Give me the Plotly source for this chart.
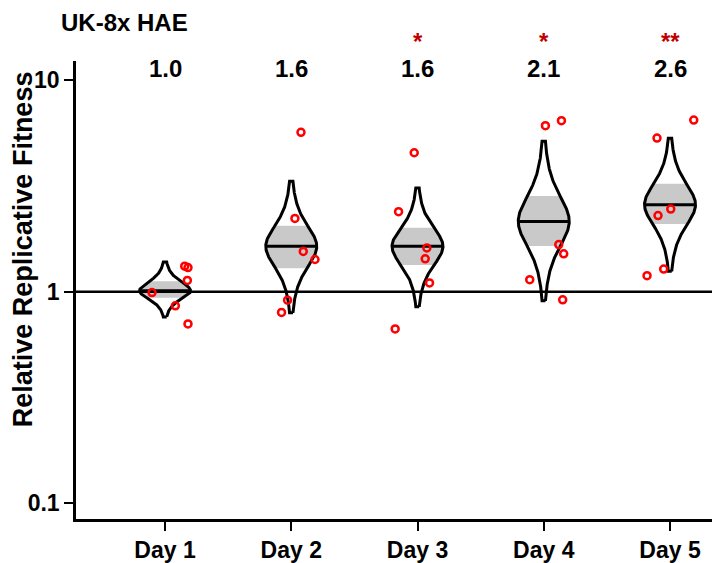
"""Violin-style chart of relative replicative fitness by day (UK-8x HAE)."""

import numpy as np
import plotly.graph_objects as go

# Categories and summary values
DAYS = ["Day 1", "Day 2", "Day 3", "Day 4", "Day 5"]
FOLD_LABELS = ["1.0", "1.6", "1.6", "2.1", "2.6"]
STARS = ["", "", "*", "*", "**"]

MEDIAN = [1.01, 1.64, 1.64, 2.15, 2.58]
BAND_LOW = [0.935, 1.29, 1.335, 1.64, 2.08]
BAND_HIGH = [1.12, 2.06, 2.01, 2.84, 3.24]
TAIL_LOW = [0.76, 0.795, 0.848, 0.905, 1.25]
TAIL_HIGH = [1.38, 3.33, 3.09, 5.15, 5.32]

# Replicate points (fitness) and their horizontal jitter (category units)
POINTS = [
    [1.32, 1.30, 1.13, 0.99, 0.857, 0.704],
    [5.67, 2.22, 1.55, 1.42, 0.912, 0.798],
    [4.54, 2.39, 1.61, 1.43, 1.10, 0.667],
    [6.10, 6.44, 1.67, 1.51, 1.14, 0.915],
    [5.33, 6.48, 2.46, 2.29, 1.28, 1.19],
]
JITTER = [
    [0.156, 0.182, 0.177, -0.103, 0.082, 0.182],
    [0.077, 0.029, 0.095, 0.188, -0.029, -0.077],
    [-0.026, -0.150, 0.074, 0.061, 0.095, -0.177],
    [0.013, 0.140, 0.119, 0.158, -0.111, 0.150],
    [-0.103, 0.188, 0.006, -0.095, -0.050, -0.182],
]

HALF_WIDTH = 0.202
X_RANGE = [-0.705, 4.396]
FONT = "Liberation Sans, Arial, sans-serif"


def violin_profile(i, n=240):
    """Return log10 grid and relative width for the violin of day i."""
    m = np.log10(MEDIAN[i])
    lo = np.log10(TAIL_LOW[i])
    hi = np.log10(TAIL_HIGH[i])
    ys = np.linspace(lo, hi, n)
    s_up = (hi - m) / 2.8
    s_dn = (m - lo) / 2.8
    z = np.where(ys >= m, (ys - m) / s_up, (ys - m) / s_dn)
    w = (1 + z ** 2 / 4) ** -2.5
    return ys, w


fig = go.Figure()

for i in range(len(DAYS)):
    ys, w = violin_profile(i)
    half = HALF_WIDTH * w

    # shaded central band, clipped to the violin shape
    mask = (ys >= np.log10(BAND_LOW[i])) & (ys <= np.log10(BAND_HIGH[i]))
    by, bh = ys[mask], half[mask]
    fig.add_trace(go.Scatter(
        x=np.concatenate([i + bh, (i - bh)[::-1]]),
        y=10 ** np.concatenate([by, by[::-1]]),
        fill="toself", fillcolor="#c9c9c9", mode="none",
        hoverinfo="skip", showlegend=False,
    ))

# reference line at 1
fig.add_trace(go.Scatter(
    x=X_RANGE, y=[1, 1], mode="lines",
    line=dict(color="black", width=2.5),
    hoverinfo="skip", showlegend=False, cliponaxis=False,
))

for i in range(len(DAYS)):
    ys, w = violin_profile(i)
    half = HALF_WIDTH * w
    fig.add_trace(go.Scatter(
        x=np.concatenate([i + half, (i - half)[::-1], [i + half[0]]]),
        y=10 ** np.concatenate([ys, ys[::-1], [ys[0]]]),
        mode="lines", line=dict(color="black", width=3),
        hoverinfo="skip", showlegend=False,
    ))
    fig.add_trace(go.Scatter(
        x=[i - HALF_WIDTH, i + HALF_WIDTH], y=[MEDIAN[i], MEDIAN[i]],
        mode="lines", line=dict(color="black", width=3),
        hoverinfo="skip", showlegend=False,
    ))

for i in range(len(DAYS)):
    fig.add_trace(go.Scatter(
        x=[i + j for j in JITTER[i]], y=POINTS[i], mode="markers",
        marker=dict(symbol="circle-open", size=7, color="#ff0000",
                    line=dict(width=2.5, color="#ff0000")),
        showlegend=False,
    ))

# fold-change labels and significance stars
for i in range(len(DAYS)):
    fig.add_annotation(
        x=i, y=0.983, xref="x", yref="paper", text=FOLD_LABELS[i],
        showarrow=False, yanchor="middle",
        font=dict(family=FONT, size=24, color="black", weight="bold"),
    )
    if STARS[i]:
        fig.add_annotation(
            x=i, y=1.043, xref="x", yref="paper", text=STARS[i],
            showarrow=False, yanchor="middle",
            font=dict(family=FONT, size=24, color="#c00000", weight="bold"),
        )

fig.add_annotation(
    x=-0.0264, y=1.0844, xref="paper", yref="paper", text="UK-8x HAE",
    showarrow=False, xanchor="left", yanchor="middle",
    font=dict(family=FONT, size=24, color="black", weight="bold"),
)
fig.add_annotation(
    x=-0.0823, y=0.589, xref="paper", yref="paper",
    text="Relative Replicative Fitness", textangle=-90,
    showarrow=False, xanchor="center", yanchor="middle",
    font=dict(family=FONT, size=27, color="black", weight="bold"),
)

fig.update_xaxes(
    range=X_RANGE, tickvals=list(range(len(DAYS))), ticktext=DAYS,
    showline=True, linecolor="black", linewidth=2.5,
    ticks="outside", ticklen=9, tickwidth=2, tickcolor="black",
    showgrid=False, zeroline=False,
    tickfont=dict(family=FONT, size=23, color="black", weight="bold"),
)
fig.update_yaxes(
    type="log", range=[-1.075, 1.091],
    tickvals=[0.1, 1, 10], ticktext=["0.1", "1", "10"],
    showline=True, linecolor="black", linewidth=2.5,
    ticks="outside", ticklen=9, tickwidth=2, tickcolor="black",
    showgrid=False, zeroline=False,
    tickfont=dict(family=FONT, size=23, color="black", weight="bold"),
)
fig.update_layout(
    width=720, height=563,
    margin=dict(l=68, r=8, t=53, b=48),
    plot_bgcolor="white", paper_bgcolor="white",
    showlegend=False,
)

fig.write_html("out.html")
